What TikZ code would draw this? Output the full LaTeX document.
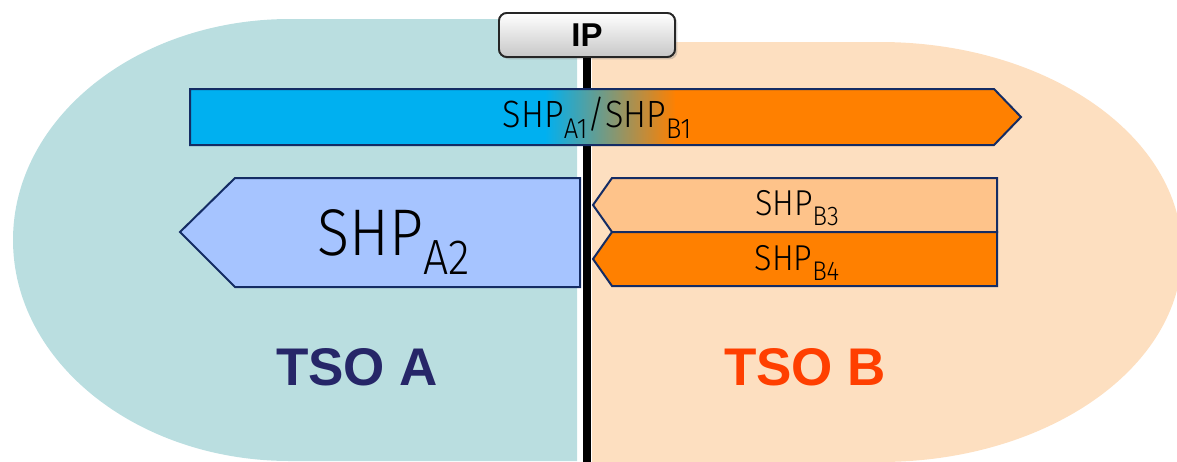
\documentclass[tikz,border=0pt]{standalone}
\usepackage{fontspec}
\setmainfont{Liberation Sans}
\newfontfamily\shpfont{Fira Sans}[UprightFont={* Light},FakeStretch=0.9]
\usetikzlibrary{shadows}
\definecolor{tealbg}{HTML}{BADEE0}
\definecolor{peachbg}{HTML}{FDDFC0}
\definecolor{shpblue}{HTML}{00B0F0}
\definecolor{shporange}{HTML}{FF8000}
\definecolor{shplav}{HTML}{A6C4FF}
\definecolor{shppeach}{HTML}{FEC38A}
\definecolor{navyline}{HTML}{142C64}
\definecolor{tsoa}{HTML}{262668}
\definecolor{tsob}{HTML}{FF3F00}
\newcommand\shpsub[1]{\raisebox{-0.3em}{\scalebox{0.75}{#1}}}
\begin{document}
\begin{tikzpicture}[x=0.5pt,y=-0.5pt,
  shparrow/.style={draw=navyline,line width=1pt,line join=miter},
  shptext/.style={anchor=base,inner sep=0pt},
  ipbox/.style={draw=black!85,line width=0.9pt,rounded corners=4pt,top color=white,bottom color=black!22,
    minimum width=88pt,minimum height=22pt,inner sep=0pt,font=\bfseries\fontsize{16.5}{19}\selectfont},
  tso/.style={anchor=base,inner sep=0pt,font=\bfseries\fontsize{26.5}{30}\selectfont}]
\useasboundingbox (0,0) rectangle (1177,461);
% backgrounds
\fill[tealbg] (577,19) -- (290,19) arc[start angle=270,end angle=90,x radius=277,y radius=221] -- (577,461) -- cycle;
\fill[peachbg] (592,42) -- (880,42) arc[start angle=270,end angle=450,x radius=302,y radius=210] -- (592,462) -- cycle;
% IP box
\node[ipbox,drop shadow={shadow xshift=1.2pt,shadow yshift=-1.2pt,opacity=0.35}] (ip) at (587,35) {IP};
% black line
\coordinate (lineend) at (587,470);
\draw[line width=4pt] (ip.south) -- (lineend);
% top arrow with gradient
\begin{scope}
\clip (190,89) -- (994,89) -- (1021,117) -- (994,145) -- (190,145) -- cycle;
\fill[shpblue] (185,85) rectangle (546,150);
\shade[left color=shpblue,right color=shporange] (545,85) rectangle (676,150);
\fill[shporange] (675,85) rectangle (1030,150);
\end{scope}
\draw[shparrow] (190,89) -- (994,89) -- (1021,117) -- (994,145) -- (190,145) -- cycle;
% A2
\draw[shparrow,fill=shplav] (580,178) -- (235,178) -- (180,232) -- (235,287) -- (580,287) -- cycle;
% B3, B4
\draw[shparrow,fill=shppeach] (997,178) -- (612,178) -- (593,205) -- (612,232) -- (997,232) -- cycle;
\draw[shparrow,fill=shporange] (997,232) -- (612,232) -- (593,259) -- (612,286) -- (997,286) -- cycle;
% IP box on top
\node[ipbox] (ip2) at (587,35) {IP};
% texts
\node[shptext,font=\shpfont\fontsize{19}{22}\selectfont] (t1) at (597,127) {SHP\shpsub{A1}/SHP\shpsub{B1}};
\node[shptext,font=\shpfont\fontsize{33}{36}\selectfont] (ta2) at (394,255) {SHP\shpsub{A2}};
\node[shptext,font=\shpfont\fontsize{18}{21}\selectfont] (tb3) at (797,215) {SHP\shpsub{B3}};
\node[shptext,font=\shpfont\fontsize{18}{21}\selectfont] (tb4) at (797,270) {SHP\shpsub{B4}};
\node[tso,text=tsoa] (tsoa) at (357,385) {TSO A};
\node[tso,text=tsob] (tsob) at (805,385) {TSO B};
\end{tikzpicture}
\end{document}
